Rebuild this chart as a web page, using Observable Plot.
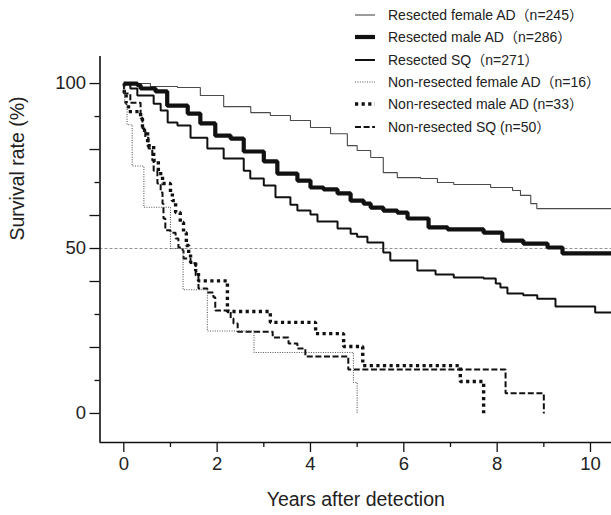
<!DOCTYPE html>
<html><head><meta charset="utf-8">
<script src="https://cdn.jsdelivr.net/npm/d3@7"></script>
<script src="https://cdn.jsdelivr.net/npm/@observablehq/plot@0.6"></script>
<style>
body{margin:0;background:#fff;font-family:"Liberation Sans",Arial,"Noto Sans CJK JP",sans-serif;}
#wrap{position:relative;width:611px;height:515px;}
#legend{position:absolute;left:353px;top:4px;font-size:14px;color:#222;line-height:1;}
.row{height:22.3px;display:flex;align-items:center;white-space:nowrap;}
.row svg{width:24px;height:10px;margin-right:11px;flex:none;}
</style></head><body>
<div id="wrap"><div id="legend"></div></div>
<script>
// ---- data ----
const seriesNames = ["Resected female AD", "Resected male AD", "Resected SQ", "Non-resected female AD", "Non-resected male AD", "Non-resected SQ"];
const legendLabels = ["Resected female AD（n=245）", "Resected male AD（n=286）", "Resected SQ（n=271）", "Non-resected female AD（n=16）", "Non-resected male AD (n=33）", "Non-resected SQ (n=50）"];

const resFemaleT = [0, 0.57, 1.15, 1.64, 2.14, 2.72, 3.14, 3.57, 4.0, 4.43, 4.79, 5.0, 5.29, 5.56, 5.86, 6.36, 6.72, 7.07, 7.86, 8.33, 8.5, 8.72, 8.85, 10.45];
const resFemaleS = [100, 99.1, 98.8, 96.4, 93.0, 91.2, 90.3, 88.8, 86.7, 84.8, 81.2, 79.7, 77.6, 73.0, 71.5, 71.2, 70.0, 69.4, 68.5, 67.6, 66.1, 63.6, 62.1, 62.1];

const resMaleT = [0, 0.29, 0.36, 0.68, 0.93, 1.37, 1.64, 1.96, 2.29, 2.57, 3.0, 3.29, 3.72, 4.0, 4.28, 4.58, 4.86, 5.14, 5.29, 5.56, 5.86, 6.08, 6.53, 6.94, 7.71, 8.11, 8.56, 9.08, 9.4, 10.45];
const resMaleS = [100, 99.5, 98.5, 97.6, 93.3, 90.9, 87.9, 84.2, 83.3, 79.4, 76.4, 72.7, 70.6, 68.5, 67.9, 66.7, 64.5, 63.6, 62.4, 61.5, 60.9, 59.1, 56.4, 55.8, 54.8, 52.4, 51.5, 50.3, 48.5, 48.5];

const resSqT = [0, 0.14, 0.29, 0.64, 0.79, 0.94, 1.15, 1.43, 1.79, 2.14, 2.57, 2.71, 3.0, 3.25, 3.57, 3.72, 4.0, 4.15, 4.58, 4.86, 5.0, 5.22, 5.56, 5.71, 6.29, 6.68, 7.07, 7.71, 7.97, 8.07, 8.22, 8.56, 8.86, 9.25, 10.1, 10.45];
const resSqS = [100, 98.5, 96.4, 93.9, 91.8, 88.2, 87.3, 83.6, 80.3, 77.3, 73.6, 71.2, 69.1, 65.5, 63.3, 61.5, 60.3, 58.2, 56.1, 54.5, 53.6, 51.8, 48.8, 46.4, 43.3, 42.1, 41.2, 40.9, 39.4, 38.2, 36.4, 35.8, 34.8, 32.4, 30.6, 30.6];

const nrFemaleT = [0, 0.02, 0.07, 0.18, 0.43, 1.0, 1.27, 1.79, 2.79, 4.92, 5.0];
const nrFemaleS = [100, 94, 87.5, 75, 62.5, 50, 37.5, 25, 18.5, 9.4, 0];

const nrMaleT = [0, 0.01, 0.05, 0.1, 0.36, 0.4, 0.51, 0.64, 0.74, 0.83, 1.0, 1.04, 1.11, 1.21, 1.28, 1.34, 1.39, 1.43, 1.54, 1.6, 2.22, 3.14, 4.11, 4.71, 5.12, 7.21, 7.71];
const nrMaleS = [100, 97, 94, 91.5, 89.4, 85.8, 81.2, 76.7, 72.7, 69.7, 67.0, 64.5, 60.9, 57.9, 54.8, 50.9, 48.5, 45.8, 43.3, 40.2, 30.9, 27.6, 24.2, 20.3, 14.5, 9.7, 0];

const nrSqT = [0, 0.005, 0.14, 0.36, 0.4, 0.46, 0.53, 0.61, 0.64, 0.72, 0.79, 0.83, 0.85, 0.89, 1.0, 1.11, 1.17, 1.26, 1.28, 1.43, 1.54, 1.6, 1.79, 1.92, 1.96, 2.29, 2.35, 2.44, 3.19, 3.53, 3.72, 3.89, 4.81, 8.18, 9.0];
const nrSqS = [100, 97, 94.2, 89.4, 86.4, 83.6, 80.3, 76.7, 73.6, 69.7, 67.0, 63.6, 59.1, 55.5, 54.8, 53.0, 50.3, 49.4, 47.0, 45.5, 41.8, 37.9, 36.7, 35.2, 31.2, 28.8, 27.3, 24.8, 23.0, 21.2, 19.7, 17.3, 13.3, 6.1, 0];

const xTicksMajor = [0, 2, 4, 6, 8, 10];
const xTicksMinor = [1, 3, 5, 7, 9];
const yTicksLabeled = [0, 50, 100];
const yTicksLong = [20, 40, 60, 80];
const yTicksShort = [10, 30, 70, 90];
const refLine = [50];

// ---- styles ----
const styles = [
  {stroke: "#4a4a4a", strokeWidth: 1.1, dash: null},
  {stroke: "#111", strokeWidth: 4.2, dash: null},
  {stroke: "#111", strokeWidth: 2, dash: null},
  {stroke: "#555", strokeWidth: 1.1, dash: "1,1.4"},
  {stroke: "#111", strokeWidth: 3.4, dash: "3.2,3.4"},
  {stroke: "#111", strokeWidth: 2, dash: "6,2.6"}
];
const seriesT = [resFemaleT, resMaleT, resSqT, nrFemaleT, nrMaleT, nrSqT];
const seriesS = [resFemaleS, resMaleS, resSqS, nrFemaleS, nrMaleS, nrSqS];
const seriesData = seriesT.map((T, k) => T.map((t, i) => ({t, s: seriesS[k][i], name: seriesNames[k]})));

const xDomain = [-0.51, 10.45];
const yDomain = [-8.8, 108.2];
const font = '"Liberation Sans", Arial, sans-serif';

const lineMarks = seriesData.map((d, k) => Plot.line(d, {
  x: "t", y: "s", curve: "step-after",
  stroke: styles[k].stroke, strokeWidth: styles[k].strokeWidth,
  strokeDasharray: styles[k].dash || undefined,
  strokeLinejoin: "miter", strokeLinecap: "butt"
}));

const chart = Plot.plot({
  width: 611, height: 515,
  marginLeft: 99.5, marginRight: 0, marginTop: 56, marginBottom: 73,
  style: {background: "#fff", fontFamily: font, color: "#222", overflow: "visible"},
  x: {domain: xDomain},
  y: {domain: yDomain},
  marks: [
    Plot.ruleY(refLine, {stroke: "#777", strokeWidth: 0.8, strokeDasharray: "3,2"}),
    ...lineMarks.slice(3).reverse(),
    ...lineMarks.slice(0, 3),
    Plot.axisY(yTicksLabeled, {tickSize: 10, tickPadding: 4, fontSize: 18.5, label: null, stroke: "#111", strokeWidth: 1.3}),
    Plot.axisY(yTicksLong, {tickSize: 10, text: null, label: null, stroke: "#111", strokeWidth: 1.3}),
    Plot.axisY(yTicksShort, {tickSize: 5, text: null, label: null, stroke: "#111", strokeWidth: 1.3}),
    Plot.axisX(xTicksMajor, {tickSize: 10, tickPadding: 4, fontSize: 18.5, label: null, stroke: "#111", strokeWidth: 1.3}),
    Plot.axisX(xTicksMinor, {tickSize: 5, text: null, label: null, stroke: "#111", strokeWidth: 1.3}),
    Plot.ruleX([xDomain[0]], {stroke: "#111", strokeWidth: 1.6}),
    Plot.ruleY([yDomain[0]], {stroke: "#111", strokeWidth: 1.6}),
    Plot.text(["Years after detection"], {frameAnchor: "bottom", dy: 63, fontSize: 19.5, fill: "#222"}),
    Plot.text(["Survival rate (%)"], {frameAnchor: "left", rotate: -90, dx: -82, dy: -9, fontSize: 19.5, fill: "#222"})
  ]
});
document.getElementById("wrap").prepend(chart);

// ---- legend ----
const legend = d3.select("#legend");
legendLabels.forEach((lab, k) => {
  const row = legend.append("div").attr("class", "row");
  const svg = row.append("svg").attr("viewBox", "0 0 24 10");
  svg.append("line").attr("x1", 2).attr("x2", 22).attr("y1", 5).attr("y2", 5)
    .attr("stroke", styles[k].stroke).attr("stroke-width", styles[k].strokeWidth)
    .attr("stroke-dasharray", styles[k].dash);
  row.append("span").text(lab);
});
</script>
</body></html>
